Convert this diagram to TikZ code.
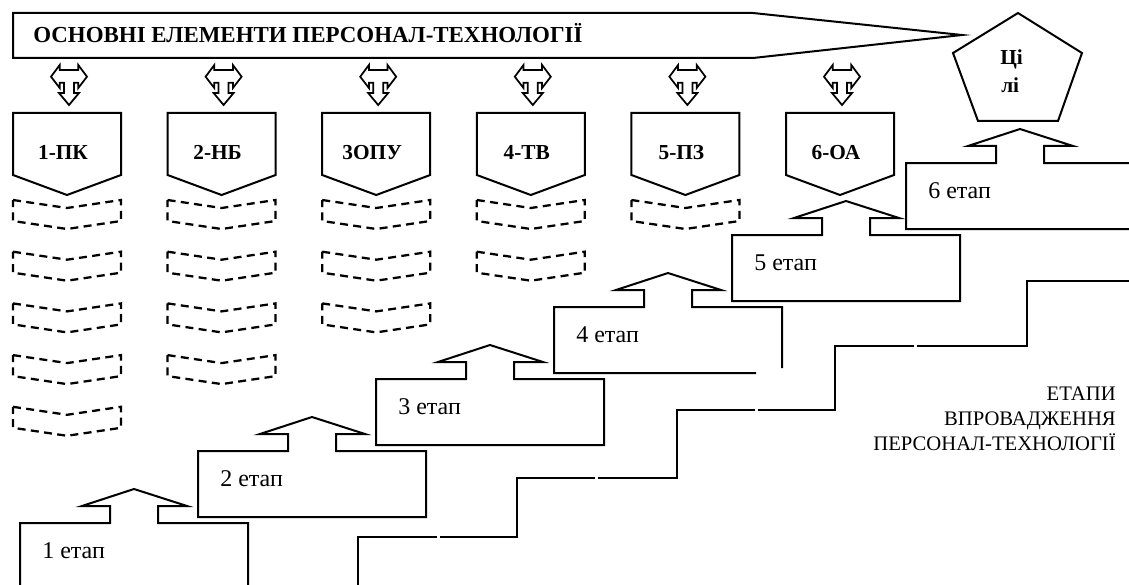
\documentclass[tikz,border=0pt]{standalone}
\usepackage{fontspec}
\setmainfont{Liberation Serif}
\newfontfamily\tnr{Liberation Serif}
\begin{document}
\begin{tikzpicture}[x=0.75pt,y=-0.75pt,
  shp/.style={draw=black, line width=1.5pt, line join=miter},
  thinshp/.style={draw=black, line width=1.3pt, line join=miter},
  dsh/.style={draw=black, line width=1.7pt, dash pattern=on 6pt off 4pt},
  lbl/.style={font=\tnr\bfseries\fontsize{16}{19}\selectfont, inner sep=0pt},
  steplbl/.style={font=\tnr\fontsize{18}{21}\selectfont, anchor=base west, inner sep=0pt},
  sidelbl/.style={font=\tnr\fontsize{15.5}{19}\selectfont, anchor=base east, inner sep=0pt}]
\useasboundingbox (0,0) rectangle (1129,585);
\clip (0,0) rectangle (1129,585);
\fill[white] (0,0) rectangle (1129,585);

% banner
\draw[shp] (13,13) -- (753,13) -- (962,35) -- (753,58) -- (13,58) -- cycle;
\node[lbl, font=\tnr\bfseries\fontsize{17.2}{20}\selectfont, anchor=base west] (ttl) at (33,43) {ОСНОВНІ ЕЛЕМЕНТИ ПЕРСОНАЛ-ТЕХНОЛОГІЇ};

% goals pentagon
\draw[shp] (1018,13) -- (1082,53) -- (1058,121) -- (978,121) -- (953,53) -- cycle;
\node[lbl, anchor=base west] (g1) at (1000,65) {Ці};
\node[lbl, anchor=base west] (g2) at (1001,93) {лі};

% elements
\foreach \i/\t/\n in {0/1-ПК/5, 1/2-НБ/4, 2/3ОПУ/3, 3/4-ТВ/2, 4/5-ПЗ/1, 5/6-ОА/0} {
  \pgfmathsetmacro\L{13+154.6*\i}
  \draw[shp] (\L,113) -- ++(108,0) -- ++(0,62) -- ++(-54,20) -- ++(-54,-20) -- cycle;
  \node[lbl, anchor=base] (e\i) at (\L+50,159) {\t};
  \begin{scope}[shift={(\L+56,65)}]
    \draw[thinshp] (-18,11.7) -- (-9.3,0) -- (-9.3,5) -- (9.3,5) -- (9.3,0) -- (18,11.7)
      -- (9.3,23) -- (9.3,17.7) -- (5,17.7) -- (5,28) -- (10,28) -- (0,40) -- (-10,28)
      -- (-5,28) -- (-5,17.7) -- (-9.3,17.7) -- (-9.3,23) -- cycle;
  \end{scope}
  \ifnum\n>0
    \foreach \k in {1,...,\n} {
      \pgfmathsetmacro\Y{200+51.7*(\k-1)}
      \draw[dsh] (\L,\Y) -- (\L+54,\Y+8) -- (\L+108,\Y) -- (\L+108,\Y+21) -- (\L+54,\Y+29) -- (\L,\Y+21) -- cycle;
    }
  \fi
}

% steps
\foreach \i/\L/\T in {1/20/523, 2/198/451, 3/376/379, 4/554/307, 5/732/235, 6/906/163} {
  \ifnum\i=4
    \draw[shp] (\L+202,\T+66) -- (\L,\T+66) -- (\L,\T) -- (\L+90,\T) -- (\L+90,\T-17) -- (\L+62,\T-17)
      -- (\L+114,\T-34) -- (\L+167,\T-17) -- (\L+138,\T-17) -- (\L+138,\T) -- (\L+228,\T) -- (\L+228,\T+61);
  \else
    \draw[shp] (\L,\T+66) -- (\L,\T) -- (\L+90,\T) -- (\L+90,\T-17) -- (\L+62,\T-17)
      -- (\L+114,\T-34) -- (\L+167,\T-17) -- (\L+138,\T-17) -- (\L+138,\T) -- (\L+228,\T) -- (\L+228,\T+66) -- cycle;
  \fi
  \node[steplbl] (s\i) at (\L+22,\T+35) {\i\ етап};
}

% staircase
\draw[shp] (358,592) -- (358,537) -- (437,537);
\draw[shp] (440,537) -- (517,537) -- (517,478) -- (595,478);
\draw[shp] (598,478) -- (677,478) -- (677,410) -- (755,410);
\draw[shp] (758,410) -- (835,410) -- (835,346) -- (914,346);
\draw[shp] (917,346) -- (1027,346) -- (1027,281) -- (1135,281);

% side caption
\node[sidelbl] (c1) at (1116,400) {ЕТАПИ};
\node[sidelbl] (c2) at (1116,425) {ВПРОВАДЖЕННЯ};
\node[sidelbl] (c3) at (1116,450) {ПЕРСОНАЛ-ТЕХНОЛОГІЇ};
\end{tikzpicture}
\end{document}
